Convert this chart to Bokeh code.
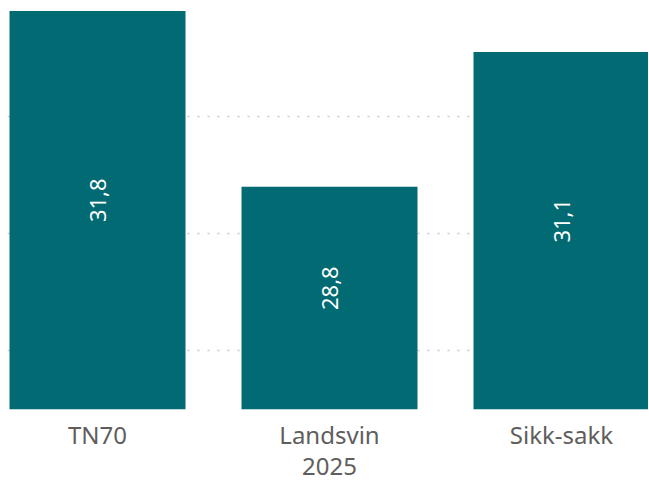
from bokeh.plotting import figure
from bokeh.models import ColumnDataSource, Range1d, FixedTicker
from bokeh.core.properties import value
from bokeh.embed import file_html
from bokeh.resources import INLINE
import math

categories = ["TN70", "Landsvin\n2025", "Sikk-sakk"]
values = [31.8, 28.8, 31.1]
labels = ["31,8", "28,8", "31,1"]
positions = [0.5, 1.5, 2.5]
y_base = 25
grid_ticks = [26, 28, 30]

src = ColumnDataSource(dict(
    x=positions,
    top=values,
    mid=[(y_base + v) / 2 for v in values],
    lab=labels,
))

p = figure(frame_width=641, frame_height=402, output_backend="svg",
           toolbar_location=None, x_range=Range1d(0.112, 2.875),
           y_range=Range1d(y_base, 31.86),
           min_border_left=7, min_border_right=0, min_border_top=7,
           min_border_bottom=0)
p.outline_line_color = None
p.background_fill_color = "white"

p.vbar(x="x", top="top", bottom=y_base, width=0.7586, source=src,
       fill_color="#016A72", line_color=None)
p.text(x="x", y="mid", text="lab", source=src, angle=math.pi / 2,
       text_align="center", text_baseline="middle", y_offset=-10,
       text_color="white", text_font=value("Noto Sans"),
       text_font_size="22px")

p.xgrid.visible = False
p.ygrid.ticker = FixedTicker(ticks=grid_ticks)
p.ygrid.grid_line_color = "#C8C8C8"
p.ygrid.grid_line_dash = "2 8"
p.ygrid.grid_line_width = 1.5
p.yaxis.visible = False

ax = p.xaxis[0]
ax.ticker = FixedTicker(ticks=positions)
ax.major_label_overrides = {pos: cat for pos, cat in zip(positions, categories)}
ax.axis_line_color = None
ax.major_tick_line_color = None
ax.minor_tick_line_color = None
ax.major_label_standoff = 2
ax.major_label_text_font = "Noto Sans"
ax.major_label_text_font_size = "24px"
ax.major_label_text_line_height = 0.95
ax.major_label_text_color = "#605E5C"

open("out.html", "w").write(file_html(p, INLINE))
